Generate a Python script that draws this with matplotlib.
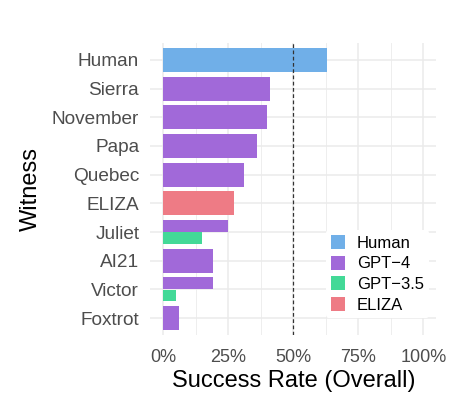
import numpy as np
import matplotlib
matplotlib.use("Agg")
import matplotlib.pyplot as plt
from matplotlib.patches import Patch

plt.rcParams['font.family'] = ['Liberation Sans', 'DejaVu Sans']

# witnesses, top to bottom
witnesses = ['Human', 'Sierra', 'November', 'Papa', 'Quebec',
             'ELIZA', 'Juliet', 'AI21', 'Victor', 'Foxtrot']

# one entry per bar
bar_witness = ['Human', 'Sierra', 'November', 'Papa', 'Quebec', 'ELIZA',
               'Juliet', 'Juliet', 'AI21', 'Victor', 'Victor', 'Foxtrot']
bar_model = ['Human', 'GPT-4', 'GPT-4', 'GPT-4', 'GPT-4', 'ELIZA',
             'GPT-4', 'GPT-3.5', 'GPT-4', 'GPT-4', 'GPT-3.5', 'GPT-4']
bar_rate = [0.63, 0.41, 0.40, 0.36, 0.31, 0.27,
            0.25, 0.15, 0.19, 0.19, 0.05, 0.06]

models = ['Human', 'GPT-4', 'GPT-3.5', 'ELIZA']
model_labels = ['Human', 'GPT\u22124', 'GPT\u22123.5', 'ELIZA']
colors = {'Human': '#70AFE8', 'GPT-4': '#A169D9',
          'GPT-3.5': '#43D997', 'ELIZA': '#EE7B85'}

fig = plt.figure(figsize=(4.76, 4.11), dpi=100)
ax = fig.add_axes([0.3158, 0.1844, 0.6008, 0.7115])

ypos = {w: i for i, w in enumerate(witnesses)}
counts = {w: bar_witness.count(w) for w in witnesses}
seen = {w: 0 for w in witnesses}
for w, m, r in zip(bar_witness, bar_model, bar_rate):
    if counts[w] == 1:
        y, h = ypos[w], 0.84
    else:
        k = seen[w]
        y = ypos[w] - 0.215 + 0.43 * k
        h = 0.40
    seen[w] += 1
    ax.barh(y, r, height=h, color=colors[m], zorder=2)

ax.axvline(0.5, color='#333333', lw=0.9, ls=(0, (3, 2)), zorder=3)

ax.set_xlim(-0.05, 1.05)
ax.set_ylim(len(witnesses) - 0.4, -0.6)
ax.set_xticks([0, 0.25, 0.5, 0.75, 1.0])
ax.set_xticklabels(['0%', '25%', '50%', '75%', '100%'])
ax.set_xticks([0.125, 0.375, 0.625, 0.875], minor=True)
ax.set_yticks(range(len(witnesses)))
ax.set_yticklabels(witnesses)

ax.grid(True, which='major', color='#EBEBEB', lw=1.1, zorder=0)
ax.grid(True, which='minor', axis='x', color='#EBEBEB', lw=0.6, zorder=0)
ax.set_axisbelow(True)
for s in ax.spines.values():
    s.set_visible(False)
ax.tick_params(which='both', length=0, labelsize=13, colors='#4D4D4D')
ax.tick_params(axis='x', pad=10)
ax.tick_params(axis='y', pad=8, labelsize=13.7)

ax.set_xlabel('Success Rate (Overall)', fontsize=17, color='black', labelpad=3)
ax.set_ylabel('Witness', fontsize=17, color='black', labelpad=7)

handles = [Patch(facecolor=colors[m], edgecolor='none') for m in models]
leg = ax.legend(handles, model_labels, loc='upper left',
                bbox_to_anchor=(0.685, 0.44), bbox_transform=fig.transFigure,
                frameon=True, fontsize=12,
                handlelength=0.84, handleheight=0.9, labelspacing=0.3,
                handletextpad=0.72, borderpad=0.3, borderaxespad=0)
leg.get_frame().set_facecolor('white')
leg.get_frame().set_edgecolor('none')
leg.get_frame().set_alpha(1)

fig.savefig('out.png', dpi=100)
